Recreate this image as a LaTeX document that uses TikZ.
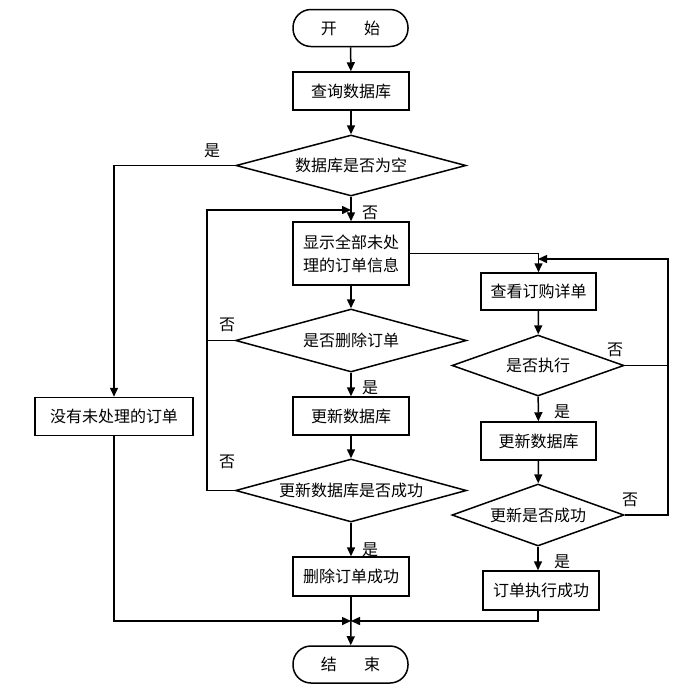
\documentclass[tikz,border=0pt]{standalone}
\usepackage{fontspec}
\newfontfamily\cjk{Noto Sans CJK SC}
\usetikzlibrary{shapes.geometric,arrows.meta}
\begin{document}
\begin{tikzpicture}[x=1pt,y=-1pt,
  font=\cjk\fontsize{16}{23}\selectfont,
  line width=1.5pt,
  >={Triangle[length=9pt,width=8pt]},
  box/.style={draw, rectangle, minimum width=116pt, minimum height=38pt, inner sep=0pt},
  term/.style={draw, rectangle, rounded corners=18pt, minimum width=115pt, minimum height=37pt, inner sep=0pt},
  dec/.style={draw, diamond, inner sep=0pt},
  lbl/.style={inner sep=0pt}]
\useasboundingbox (0,0) rectangle (694,689);
% nodes
\node[term] (start) at (350.5,28) {开\hspace{1.7em}始};
\node[box] (query) at (351,91) {查询数据库};
\node[dec, minimum width=230pt, minimum height=61pt, aspect=3.77] (d1) at (351,165.5) {数据库是否为空};
\node[box, minimum width=158pt] (nounproc) at (114,416.5) {没有未处理的订单};
\node[box, minimum height=63pt, align=left] (show) at (351,253.5) {显示全部未处\\理的订单信息};
\node[dec, minimum width=231pt, minimum height=63pt, aspect=3.67] (d2) at (351,340.5) {是否删除订单};
\node[box] (upd1) at (351,416) {更新数据库};
\node[dec, minimum width=231pt, minimum height=63pt, aspect=3.67] (d3) at (351,490.5) {更新数据库是否成功};
\node[box, minimum height=39pt] (delok) at (351,576.5) {删除订单成功};
\node[term] (end) at (350.5,664.5) {结\hspace{1.7em}束};
\node[box, minimum width=115pt, minimum height=37pt] (view) at (538.5,291.5) {查看订购详单};
\node[dec, minimum width=172pt, minimum height=61pt, aspect=2.82] (d4) at (538,365.5) {是否执行};
\node[box, minimum width=115pt] (upd2) at (538.5,441) {更新数据库};
\node[dec, minimum width=172pt, minimum height=62pt, aspect=2.77] (d5) at (538,515) {更新是否成功};
\node[box, minimum height=39pt] (execok) at (541,590.5) {订单执行成功};
% junction coordinates
\coordinate (j1) at (351,210);
\coordinate (j2) at (538,259);
\coordinate (m) at (351,621);
% labels
\node[lbl] (l1) at (212,151) {是};
\node[lbl] (l2) at (370,213) {否};
\node[lbl] (l3) at (227,325) {否};
\node[lbl] (l4) at (370,388) {是};
\node[lbl] (l5) at (227,462) {否};
\node[lbl] (l6) at (370,550) {是};
\node[lbl] (l7) at (615,350) {否};
\node[lbl] (l8) at (562,412) {是};
\node[lbl] (l9) at (630,500) {否};
\node[lbl] (l10) at (562,562) {是};
% connectors
\draw[->] (start) -- (query);
\draw[->] (query) -- (d1);
\draw[->] (d1.west) -- (nounproc.north |- d1.west) -- (nounproc.north);
\draw[->] (d1.south) -- (show.north);
\draw[->] (d2.west) -- (207,340.5) -- (207,210) -- (j1);
\draw (d3.west) -- (207,490.5) -- (207,340.5);
\draw[->] (show) -- (d2);
\draw[->] (d2) -- (upd1);
\draw[->] (upd1) -- (d3);
\draw[->] (d3) -- (delok);
\draw (delok.south) -- (m);
\draw[->] (m) -- (end);
\draw[->] (nounproc.south) -- (nounproc.south |- m) -- (m);
\draw[->] (show.east) -- (view.north |- show.east) -- (view.north);
\draw[->] (view) -- (d4);
\draw[->] (d4) -- (upd2);
\draw[->] (upd2) -- (d5);
\draw[->] (d5) -- (d5.south |- execok.north);
\draw (d4.east) -- (668,365.5);
\draw[->] (d5.east) -- (668,515) -- (668,259) -- (j2);
\draw[->] (d5.south |- execok.south) -- (538,621) -- (m);
\end{tikzpicture}
\end{document}
